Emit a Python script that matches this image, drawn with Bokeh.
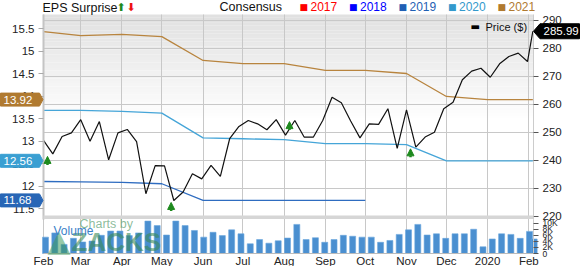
import pandas as pd
from bokeh.plotting import figure
from bokeh.models import (Range1d, LinearAxis, FixedTicker, BoxAnnotation, Label,
                          ColumnDataSource, Arrow, NormalHead)
from bokeh.embed import file_html
from bokeh.resources import INLINE

FONT = "Liberation Sans"

# ---- data -------------------------------------------------------------
price_dates = list(pd.date_range("2019-02-01", periods=53, freq="7D")) + [pd.Timestamp("2020-02-04")]
price = [247.1, 242.3, 248.5, 249.8, 254.5, 246.8, 253.8, 240.2, 249.8, 251.0,
         246.7, 228.1, 238.1, 238.0, 225.7, 228.7, 235.2, 233.4, 238.2, 234.3,
         247.7, 252.1, 254.2, 253.0, 250.9, 254.5, 249.0, 254.2, 248.3, 248.3,
         254.2, 262.5, 260.5, 254.0, 248.0, 253.0, 252.8, 258.4, 244.3, 258.0,
         244.7, 248.3, 250.0, 258.4, 260.7, 268.7, 271.8, 272.8, 269.6, 274.4,
         277.0, 278.2, 275.2, 285.99]

cons_dates = list(pd.date_range("2019-02-01", periods=13, freq="MS")) + [pd.Timestamp("2020-02-04")]
eps_2021 = [15.43, 15.34, 15.37, 15.32, 14.79, 14.72, 14.72, 14.57, 14.57, 14.50, 13.99, 13.92, 13.92, 13.92]
eps_2020 = [13.68, 13.68, 13.66, 13.62, 13.07, 13.05, 13.03, 12.94, 12.94, 12.92, 12.56, 12.56, 12.56, 12.56]
eps_2019 = [12.10, 12.09, 12.08, 12.05, 11.68, 11.68, 11.68, 11.68, 11.68]

vol_dates = list(pd.date_range("2019-02-02 12:00", periods=53, freq="7D")) + [pd.Timestamp("2020-02-05")]
volume_k = [5.4, 6.8, 3.0, 5.0, 3.8, 4.1, 6.0, 7.4, 7.4, 5.9,
            6.8, 10.7, 9.2, 6.1, 10.7, 9.2, 7.6, 5.4, 7.0, 5.9,
            7.8, 6.5, 3.2, 4.6, 3.4, 4.2, 5.1, 9.6, 4.6, 5.2,
            3.7, 4.6, 6.0, 5.7, 5.4, 5.4, 3.7, 4.3, 6.3, 7.8,
            9.6, 6.1, 6.5, 5.0, 6.5, 6.5, 8.0, 2.2, 4.8, 6.5,
            6.3, 5.0, 7.3, 4.8]

surprise_dates = [pd.Timestamp(d) for d in ["2019-02-04", "2019-05-08", "2019-08-05", "2019-11-04"]]
surprise_level = [241.4, 225.0, 253.8, 244.1]

month_ticks = list(pd.date_range("2019-02-01", periods=13, freq="MS"))
month_labels = ["Feb", "Mar", "Apr", "May", "Jun", "Jul", "Aug", "Sep", "Oct", "Nov", "Dec", "2020", "Feb"]
price_ticks = [220, 230, 240, 250, 260, 270, 280, 290]
eps_ticks = [11.5, 12, 12.5, 13, 13.5, 14, 14.5, 15, 15.5]
vol_ticks = [0, 2, 4, 6, 8, 10]
vol_labels = ["0", "2K", "4K", "6K", "8K", "10K"]

series_years = ["2017", "2018", "2019", "2020", "2021"]
year_colors = ["#ff0000", "#0000ff", "#1f5fb4", "#3399cc", "#b07a30"]
line_colors = {"2019": "#2e6cc0", "2020": "#45a5d8", "2021": "#b8843e"}
tag_colors = {"2019": "#2866b6", "2020": "#3a9fd2", "2021": "#b07a30"}

# ---- scales -----------------------------------------------------------
def ms(t):
    return int(pd.Timestamp(t).value // 10**6)

W, H = 582, 266
DAY_MS = 86400000
DAY_PX = 1.32972   # pixels per day
PRICE_PX = 2.807   # pixels per dollar
EPS_PX = 45.0      # pixels per EPS unit
VOL_PX = 3.03      # pixels per thousand shares

# The frame spans the whole canvas; the chart area sits inside it with a
# 43px strip on the left for the EPS scale, 49px on the right for prices,
# a 14px header on top and the volume pane + month labels at the bottom.
data_start = ms("2019-02-01")
data_end = ms("2020-02-04 12:00")
x_range = Range1d(start=data_start - 43 / DAY_PX * DAY_MS, end=data_end + 49 / DAY_PX * DAY_MS)


def px_x(px):
    """Horizontal canvas pixel -> time coordinate."""
    return x_range.start + px / DAY_PX * DAY_MS


# price: 290 sits 19.5px below the top edge
price_range = Range1d(290 + 19.5 / PRICE_PX - H / PRICE_PX, 290 + 19.5 / PRICE_PX)
price_top = 290 + 5.5 / PRICE_PX          # top of chart area (y=14)
price_bot = 220 - 3.0 / PRICE_PX          # bottom of price pane
# EPS: 15.5 sits 28px below the top edge
eps_range = Range1d(15.5 + 28 / EPS_PX - H / EPS_PX, 15.5 + 28 / EPS_PX)
eps_top = 15.5 + 14 / EPS_PX
eps_bot = 15.5 - 191 / EPS_PX
# volume: zero sits 13px above the bottom edge
vol_range = Range1d(-13 / VOL_PX, (H - 13) / VOL_PX)
vol_top = 34 / VOL_PX
x_axis_at = 220 - 37 / PRICE_PX           # price value level with the volume baseline

tick_ms = [ms(t) for t in month_ticks]
month_ticker = FixedTicker(ticks=tick_ms)

p = figure(width=W, height=H, x_range=x_range, y_range=price_range,
           x_axis_type="datetime", y_axis_location="right",
           min_border_left=0, min_border_right=0, min_border_top=0, min_border_bottom=0,
           output_backend="svg", toolbar_location=None)
p.outline_line_color = None
p.background_fill_color = "white"
p.border_fill_color = "white"
p.extra_y_ranges = {"eps": eps_range, "vol": vol_range}

# soft grey fade at the top of the price pane
n_bands = 40
fade_val = 254.0
step = (price_top - fade_val) / n_bands
band_top, band_bot, band_col = [], [], []
for i in range(n_bands):
    t = price_top - i * step
    g = int(225 + (255 - 225) * (i / (n_bands - 1)))
    band_top.append(t)
    band_bot.append(t - step - 0.05)
    band_col.append("#%02x%02x%02x" % (g, g, g))
p.quad(left=data_start, right=data_end, top=band_top, bottom=band_bot,
       fill_color=band_col, line_color=None, level="image")

# grids
p.ygrid.ticker = FixedTicker(ticks=price_ticks)
p.ygrid.grid_line_color = "#c8c8c8"
p.ygrid.cross_bounds = (data_start, data_end)
p.xgrid.ticker = month_ticker
p.xgrid.grid_line_color = "#c8c8c8"
p.xgrid.cross_bounds = (x_axis_at, price_top)

# separator between price pane and volume pane
p.add_layout(BoxAnnotation(top=220 + 1.0 / PRICE_PX, bottom=220 - 2.5 / PRICE_PX,
                           left=data_start, right=data_end,
                           fill_color="#d6d6d6", fill_alpha=1.0, line_alpha=0))

# volume bars
p.vbar(x=vol_dates, top=volume_k, width=4.5 * DAY_MS, y_range_name="vol",
       fill_color="#4a8fd0", line_color="#6aa6de", line_width=0.6)

# consensus lines
p.line(cons_dates, eps_2021, y_range_name="eps", line_color=line_colors["2021"], line_width=1.3)
p.line(cons_dates, eps_2020, y_range_name="eps", line_color=line_colors["2020"], line_width=1.3)
p.line(cons_dates[:len(eps_2019)], eps_2019, y_range_name="eps", line_color=line_colors["2019"], line_width=1.3)

# price line
p.line(price_dates, price, line_color="#111111", line_width=1.2)

# EPS surprise arrows
arr_len = 8.5 / PRICE_PX
arrow_src = ColumnDataSource(dict(x=surprise_dates, y1=surprise_level,
                                  y0=[v - arr_len for v in surprise_level]))
p.add_layout(Arrow(source=arrow_src, x_start="x", y_start="y0", x_end="x", y_end="y1",
                   line_color="#1e8a1e", line_width=2.5,
                   end=NormalHead(size=7, fill_color="#1e8a1e", line_color="#1e8a1e")))

# ---- axes (pinned inside the full-canvas frame) ---------------------------
def style_axis(ax, size, tick_color, standoff):
    ax.major_label_text_font = FONT
    ax.major_label_text_font_size = size
    ax.major_label_text_color = "#222222"
    ax.major_tick_out = 5
    ax.major_tick_in = 0
    ax.minor_tick_out = 0
    ax.minor_tick_in = 0
    ax.major_tick_line_color = tick_color
    ax.major_label_standoff = standoff

pax = p.yaxis[0]
pax.fixed_location = data_end
pax.bounds = (price_bot, price_top)
pax.ticker = FixedTicker(ticks=price_ticks)
style_axis(pax, "11.5px", "#555555", 4)
pax.axis_line_color = "#cccccc"

vax = LinearAxis(y_range_name="vol", ticker=FixedTicker(ticks=vol_ticks),
                 fixed_location=data_end, bounds=(0, vol_top))
vax.major_label_overrides = {t: lab for t, lab in zip(vol_ticks, vol_labels)}
style_axis(vax, "8.5px", "#555555", 4)
vax.axis_line_color = "#cccccc"
p.add_layout(vax, "right")

eax = LinearAxis(y_range_name="eps", ticker=FixedTicker(ticks=eps_ticks),
                 fixed_location=data_start, bounds=(eps_bot, eps_top))
style_axis(eax, "11.5px", "#aaaaaa", 4)
eax.axis_line_color = "#c4c4c4"
eax.axis_line_width = 2
p.add_layout(eax, "left")

xax = p.xaxis[0]
xax.fixed_location = x_axis_at
xax.bounds = (data_start, data_end)
xax.ticker = month_ticker
xax.major_label_overrides = {t: lab for t, lab in zip(tick_ms, month_labels)}
style_axis(xax, "11.5px", "#bbbbbb", 2)
xax.major_tick_out = 0
xax.axis_line_color = "#bbbbbb"

# ---- value tags (pointed flags next to the scales) -----------------------------
def tag(v, color, xs_px, text_px, range_name, unit_px):
    h = 6.5 / unit_px
    if xs_px[0] == 0:   # flag pointing right, tip touching the left scale
        ys = [v + h, v + h, v, v - h, v - h]
    else:               # flag pointing left, tip touching the right scale
        ys = [v, v + h, v + h, v - h, v - h]
    p.patch([px_x(x) for x in xs_px], ys, y_range_name=range_name,
            fill_color=color, line_color=color, level="annotation")
    p.add_layout(Label(x=text_px, x_units="canvas", y=v, y_range_name=range_name, text="%.2f" % v,
                       text_font=FONT, text_font_size="11.5px", text_color="white",
                       text_baseline="middle", level="overlay"))

left_flag = [0, 39, 42.5, 39, 0]
tag(eps_2021[-1], tag_colors["2021"], left_flag, 3, "eps", EPS_PX)
tag(eps_2020[-1], tag_colors["2020"], left_flag, 3, "eps", EPS_PX)
tag(eps_2019[-1], tag_colors["2019"], left_flag, 3, "eps", EPS_PX)
tag(price[-1], "#000000", [533, 539.5, 579, 579, 539.5], 543, "default", PRICE_PX * 6.5 / 7.5)

# ---- header ------------------------------------------------------------------
def text(x, y, s, size, color, font=FONT, **kw):
    p.add_layout(Label(x=x, y=y, x_units="canvas", y_units="canvas", text=s,
                       text_font=font, text_font_size=size, text_color=color,
                       text_baseline="middle", **kw))

text(42, 7, "EPS Surprise", "12.5px", "#111111")
text(116, 7, "\u2b06", "11px", "#1e8a1e", font="DejaVu Sans")
text(126, 7, "\u2b07", "11px", "#ee1111", font="DejaVu Sans")
text(219, 6, "Consensus", "12.5px", "#111111")
for i, (yr, col) in enumerate(zip(series_years, year_colors)):
    x0 = 299 + 49.5 * i
    text(x0, 6, "\u25a0", "9px", col, font="DejaVu Sans")
    text(x0 + 11, 6, yr, "12px", col)
text(470, 26, "\u25ac", "10px", "black", font="DejaVu Sans")
text(485, 26, "Price ($)", "11px", "#111111")

# ---- volume pane title and watermark -----------------------------------------
text(47, 240, "\u25b2", "30px", "#3c9a5c", font="DejaVu Sans", text_alpha=0.55)
text(71, 241, "ZACKS", "26px", "#3a8a58", text_font_style="bold", text_alpha=0.6)
text(79, 223, "Charts by", "12.5px", "#5aa070", text_alpha=0.7)
text(53, 230, "Volume", "12px", "#3a7fc8")

open("out.html", "w").write(file_html(p, INLINE))
